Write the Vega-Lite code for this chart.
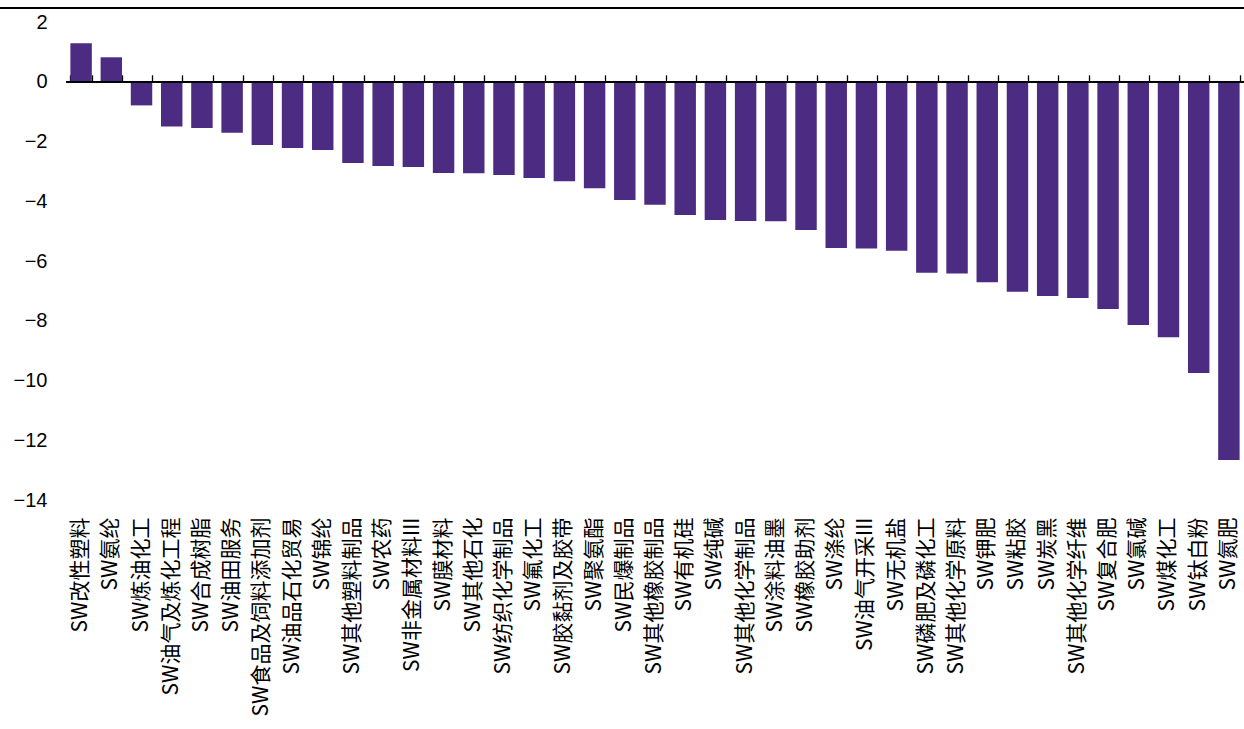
{
  "$schema": "https://vega.github.io/schema/vega-lite/v6.json",
  "width": 1178,
  "height": 492,
  "autosize": "none",
  "padding": {"left": 66, "top": 8, "right": 0, "bottom": 229},
  "background": "white",
  "config": {
    "view": {"stroke": null},
    "axis": {"grid": false}
  },
  "data": {
    "values": [
      {"name": "SW改性塑料", "value": 1.29},
      {"name": "SW氨纶", "value": 0.82},
      {"name": "SW炼油化工", "value": -0.79},
      {"name": "SW油气及炼化工程", "value": -1.5},
      {"name": "SW合成树脂", "value": -1.55},
      {"name": "SW油田服务", "value": -1.71},
      {"name": "SW食品及饲料添加剂", "value": -2.12},
      {"name": "SW油品石化贸易", "value": -2.22},
      {"name": "SW锦纶", "value": -2.28},
      {"name": "SW其他塑料制品", "value": -2.72},
      {"name": "SW农药", "value": -2.82},
      {"name": "SW非金属材料III", "value": -2.85},
      {"name": "SW膜材料", "value": -3.05},
      {"name": "SW其他石化", "value": -3.06},
      {"name": "SW纺织化学制品", "value": -3.12},
      {"name": "SW氟化工", "value": -3.22},
      {"name": "SW胶黏剂及胶带", "value": -3.33},
      {"name": "SW聚氨酯", "value": -3.56},
      {"name": "SW民爆制品", "value": -3.96},
      {"name": "SW其他橡胶制品", "value": -4.12},
      {"name": "SW有机硅", "value": -4.46},
      {"name": "SW纯碱", "value": -4.63},
      {"name": "SW其他化学制品", "value": -4.66},
      {"name": "SW涂料油墨", "value": -4.67},
      {"name": "SW橡胶助剂", "value": -4.96},
      {"name": "SW涤纶", "value": -5.56},
      {"name": "SW油气开采III", "value": -5.58},
      {"name": "SW无机盐", "value": -5.66},
      {"name": "SW磷肥及磷化工", "value": -6.39},
      {"name": "SW其他化学原料", "value": -6.42},
      {"name": "SW钾肥", "value": -6.71},
      {"name": "SW粘胶", "value": -7.03},
      {"name": "SW炭黑", "value": -7.17},
      {"name": "SW其他化学纤维", "value": -7.24},
      {"name": "SW复合肥", "value": -7.61},
      {"name": "SW氯碱", "value": -8.14},
      {"name": "SW煤化工", "value": -8.55},
      {"name": "SW钛白粉", "value": -9.75},
      {"name": "SW氮肥", "value": -12.66}
    ]
  },
  "layer": [
    {
      "mark": {"type": "bar", "color": "#4c2c82"},
      "encoding": {
        "x": {
          "field": "name",
          "type": "nominal",
          "sort": null,
          "scale": {
            "domain": ["SW改性塑料","SW氨纶","SW炼油化工","SW油气及炼化工程","SW合成树脂","SW油田服务","SW食品及饲料添加剂","SW油品石化贸易","SW锦纶","SW其他塑料制品","SW农药","SW非金属材料III","SW膜材料","SW其他石化","SW纺织化学制品","SW氟化工","SW胶黏剂及胶带","SW聚氨酯","SW民爆制品","SW其他橡胶制品","SW有机硅","SW纯碱","SW其他化学制品","SW涂料油墨","SW橡胶助剂","SW涤纶","SW油气开采III","SW无机盐","SW磷肥及磷化工","SW其他化学原料","SW钾肥","SW粘胶","SW炭黑","SW其他化学纤维","SW复合肥","SW氯碱","SW煤化工","SW钛白粉","SW氮肥"],
            "paddingInner": 0.29,
            "paddingOuter": 0.145
          },
          "axis": {
            "orient": "bottom",
            "title": null,
            "domain": false,
            "ticks": false,
            "labelAngle": -90,
            "labelFont": "Noto Sans CJK SC",
            "labelFontSize": 21,
            "labelColor": "black",
            "labelPadding": 17,
            "labelLimit": 400
          }
        },
        "y": {
          "field": "value",
          "type": "quantitative",
          "scale": {"domain": [-14, 2.47], "nice": false, "zero": false},
          "axis": {
            "title": null,
            "values": [-14, -12, -10, -8, -6, -4, -2, 0, 2],
            "domain": false,
            "ticks": false,
            "labelPadding": 19,
            "labelFont": "Liberation Sans",
            "labelFontSize": 20,
            "labelColor": "black"
          }
        }
      }
    },
    {
      "mark": {"type": "tick", "opacity": 0},
      "encoding": {
        "x": {
          "field": "name",
          "type": "nominal",
          "sort": null,
          "axis": {
            "orient": "top",
            "offset": -73.8,
            "labels": false,
            "domain": false,
            "ticks": true,
            "tickBand": "extent",
            "tickSize": 7,
            "tickColor": "black",
            "tickWidth": 1.3,
            "title": null
          }
        },
        "y": {"field": "value", "type": "quantitative"}
      }
    },
    {
      "mark": {"type": "rule", "color": "black", "strokeWidth": 1.2, "clip": false},
      "encoding": {
        "x": {"datum": "SW改性塑料", "type": "nominal", "bandPosition": -0.2, "axis": null},
        "x2": {"datum": "SW氮肥", "bandPosition": 1.2},
        "y": {"datum": 0, "type": "quantitative"}
      }
    },
    {
      "mark": {"type": "rule", "color": "black", "strokeWidth": 1.3, "clip": false},
      "encoding": {
        "x": {"datum": "SW改性塑料", "type": "nominal", "bandPosition": -3.29, "axis": null},
        "x2": {"datum": "SW氮肥", "bandPosition": 1.3},
        "y": {"datum": 2.47, "type": "quantitative"}
      }
    }
  ],
  "resolve": {"axis": {"x": "independent"}}
}
